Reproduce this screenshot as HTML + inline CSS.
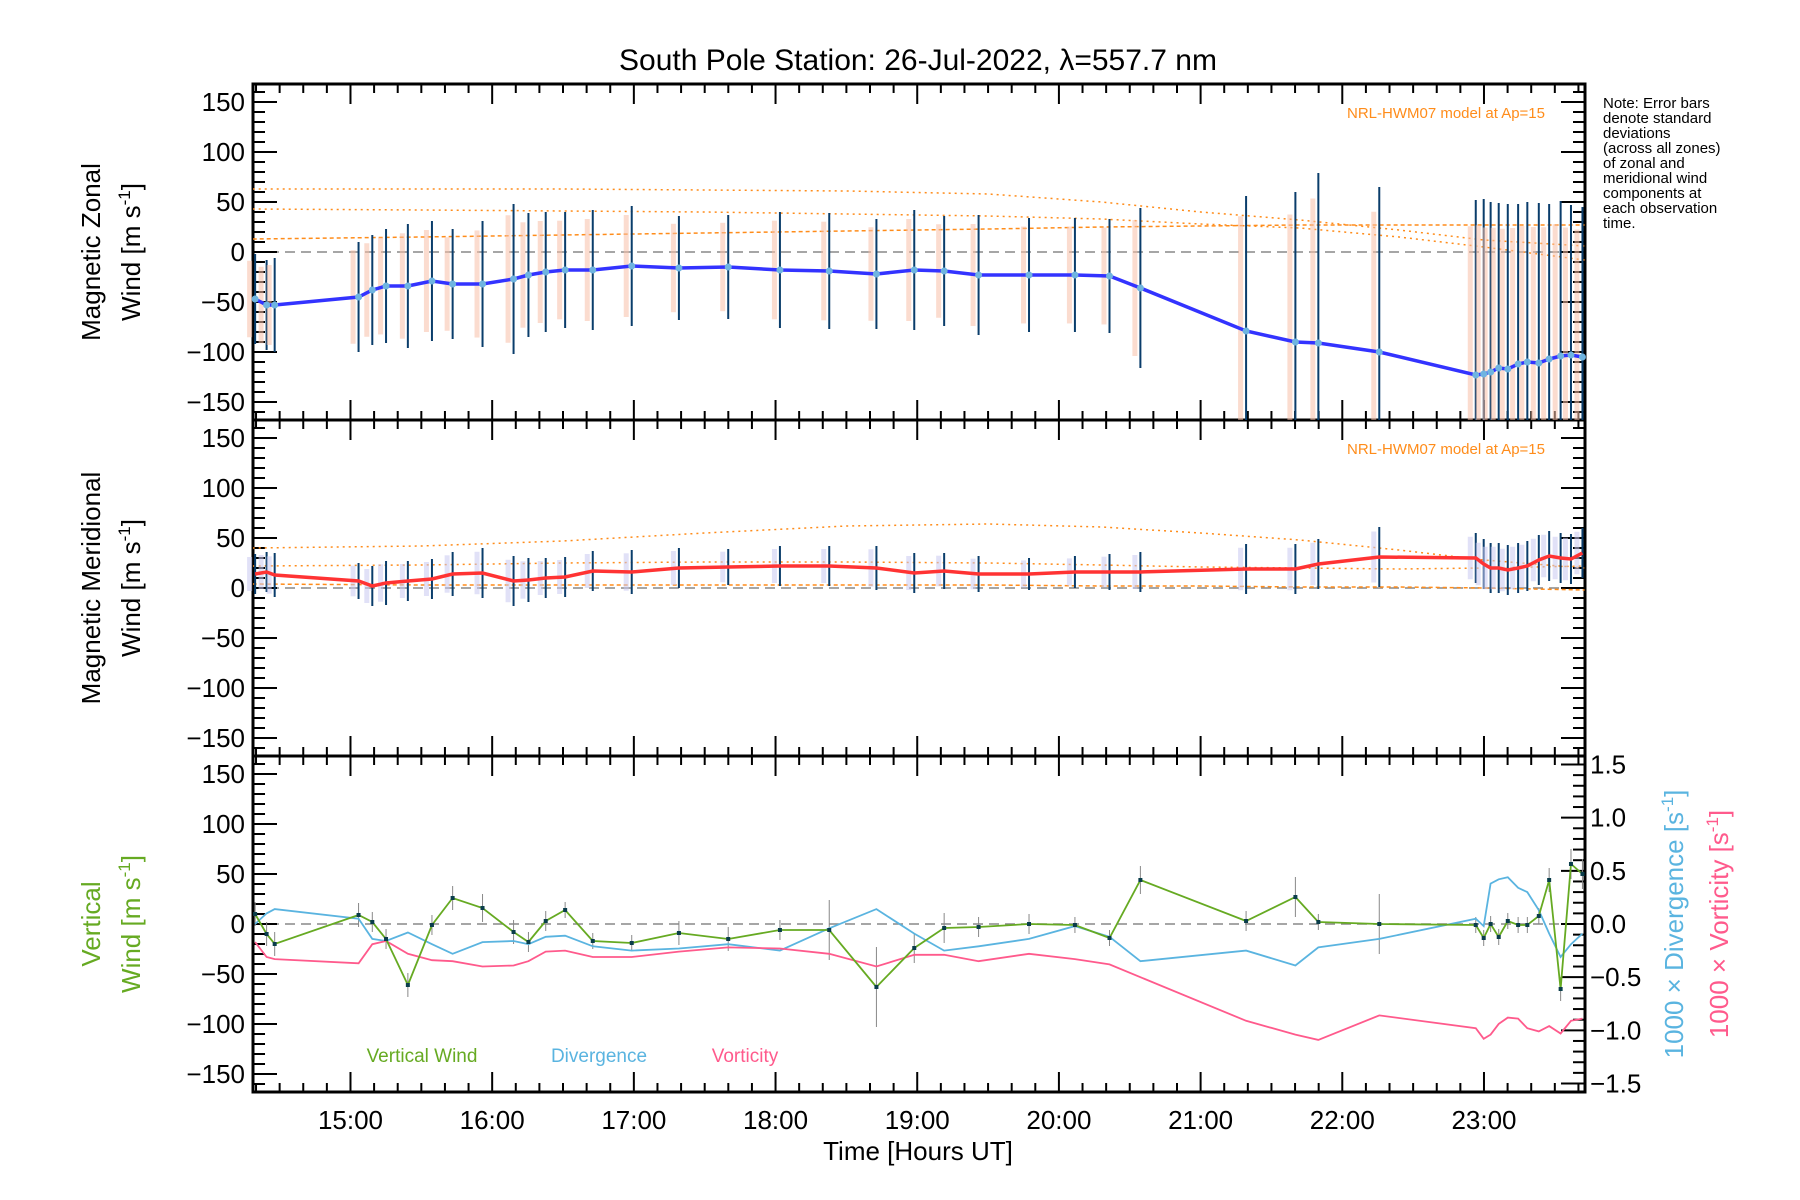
<!DOCTYPE html>
<html><head><meta charset="utf-8"><style>
html,body{margin:0;padding:0;background:#fff;}
svg{display:block;font-family:"Liberation Sans",sans-serif;}
</style></head><body>
<svg id="c" width="1800" height="1200" viewBox="0 0 1800 1200" xmlns="http://www.w3.org/2000/svg">
<text x="918" y="70" font-size="30" text-anchor="middle">South Pole Station: 26-Jul-2022, λ=557.7 nm</text>
<g font-size="15">
<text x="1603" y="108">Note: Error bars</text><text x="1603" y="123">denote standard</text><text x="1603" y="138">deviations</text><text x="1603" y="153">(across all zones)</text><text x="1603" y="168">of zonal and</text><text x="1603" y="183">meridional wind</text><text x="1603" y="198">components at</text><text x="1603" y="213">each observation</text><text x="1603" y="228">time.</text>
</g>
<text x="1545" y="118" font-size="15" fill="#ff8c1a" text-anchor="end">NRL-HWM07 model at Ap=15</text>
<text x="1545" y="454" font-size="15" fill="#ff8c1a" text-anchor="end">NRL-HWM07 model at Ap=15</text>
<text transform="translate(100,252) rotate(-90)" font-size="26" text-anchor="middle"><tspan x="0" dy="0">Magnetic Zonal</tspan><tspan x="0" dy="40">Wind [m s<tspan dy="-10" font-size="17">-1</tspan><tspan dy="10">]</tspan></tspan></text>
<text transform="translate(100,588) rotate(-90)" font-size="26" text-anchor="middle"><tspan x="0" dy="0">Magnetic Meridional</tspan><tspan x="0" dy="40">Wind [m s<tspan dy="-10" font-size="17">-1</tspan><tspan dy="10">]</tspan></tspan></text>
<text transform="translate(100,924) rotate(-90)" font-size="26" text-anchor="middle" fill="#66aa22"><tspan x="0" dy="0">Vertical</tspan><tspan x="0" dy="40">Wind [m s<tspan dy="-10" font-size="17">-1</tspan><tspan dy="10">]</tspan></tspan></text>
<text transform="translate(1683,924) rotate(-90)" font-size="26" text-anchor="middle" fill="#5ab4e0">1000 × Divergence [s<tspan dy="-10" font-size="17">-1</tspan><tspan dy="10">]</tspan></text>
<text transform="translate(1728,924) rotate(-90)" font-size="26" text-anchor="middle" fill="#ff5a8c">1000 × Vorticity [s<tspan dy="-10" font-size="17">-1</tspan><tspan dy="10">]</tspan></text>
<text x="422" y="1062" font-size="19" fill="#66aa22" text-anchor="middle">Vertical Wind</text>
<text x="599" y="1062" font-size="19" fill="#5ab4e0" text-anchor="middle">Divergence</text>
<text x="745" y="1062" font-size="19" fill="#ff5a8c" text-anchor="middle">Vorticity</text>
<text x="918" y="1160" font-size="26" text-anchor="middle">Time [Hours UT]</text>
</svg>
<script>
const times=[14.327,14.408,14.465,15.057,15.154,15.251,15.405,15.575,15.721,15.932,16.151,16.256,16.378,16.515,16.710,16.985,17.318,17.666,18.031,18.379,18.712,18.979,19.190,19.433,19.789,20.113,20.357,20.575,21.321,21.669,21.831,22.261,22.942,22.998,23.047,23.104,23.168,23.241,23.306,23.387,23.460,23.541,23.614,23.695];
const zonal=[-47,-53,-53,-45,-38,-34,-34,-29,-32,-32,-27,-23,-20,-18,-18,-14,-16,-15,-18,-19,-22,-18,-19,-23,-23,-23,-24,-36,-79,-90,-91,-100,-123,-122,-120,-116,-117,-112,-110,-111,-107,-104,-103,-105];
const zonalErr=[45,45,47,55,55,57,62,60,55,63,75,62,60,58,60,60,52,52,58,58,55,60,55,60,57,57,57,80,135,150,170,165,175,175,170,165,165,160,160,160,155,155,150,150];
const merid=[14,16,13,7,2,5,7,9,14,15,7,8,10,11,17,16,20,21,22,22,20,15,17,14,14,16,16,16,19,19,24,31,30,24,20,20,18,20,22,28,32,30,29,35];
const meridErr=[20,20,22,18,20,22,20,20,22,25,25,22,20,20,20,22,20,18,20,20,22,20,18,18,16,16,18,20,25,25,25,30,25,25,25,25,25,25,25,25,25,25,25,25];
const vert=[10,-10,-20,9,2,-15,-61,-1,26,16,-8,-18,3,14,-17,-19,-9,-15,-6,-6,-63,-24,-4,-3,0,-1,-14,44,3,27,2,0,-1,-14,0,-13,3,-1,-1,8,44,-65,60,50];
const vertErr=[12,12,12,12,10,10,12,10,12,14,12,10,10,8,8,8,12,12,10,30,40,15,15,10,10,8,8,14,10,20,8,30,8,8,8,8,8,8,8,8,12,12,15,15];
const diverg=[0.0,0.10,0.14,0.05,-0.14,-0.16,-0.08,-0.19,-0.28,-0.17,-0.16,-0.19,-0.12,-0.11,-0.21,-0.25,-0.23,-0.19,-0.25,-0.04,0.14,-0.09,-0.25,-0.21,-0.14,-0.02,-0.12,-0.35,-0.25,-0.39,-0.22,-0.14,0.05,-0.02,0.38,0.42,0.44,0.34,0.30,0.13,-0.09,-0.31,-0.19,-0.09];
const vort=[-0.17,-0.31,-0.33,-0.37,-0.19,-0.16,-0.28,-0.34,-0.35,-0.40,-0.39,-0.35,-0.26,-0.25,-0.31,-0.31,-0.26,-0.22,-0.23,-0.28,-0.40,-0.29,-0.29,-0.35,-0.28,-0.33,-0.38,-0.50,-0.91,-1.04,-1.09,-0.86,-0.98,-1.08,-1.04,-0.94,-0.88,-0.89,-0.98,-1.01,-0.96,-1.03,-0.91,-0.89];
const modelT=[14.31,15.5,16.5,17.5,18.5,19.5,20.3,21.0,21.7,22.4,23.0,23.71];
const zModelA=[63,63,63,62,61,58,50,40,32,22,12,6];
const zModelB=[43,42,41,40,38,36,33,28,24,15,5,-8];
const zModelC=[13,15,17,19,21,23,25,26,27,27,27,27];
const mModelA=[40,42,47,55,62,64,61,55,48,38,28,20];
const mModelB=[22,23,25,26,26,25,23,21,20,19,20,22];
const mModelC=[4,3,3,3,3,3,2,2,1,1,0,-2];
const yTicks=[-150,-100,-50,0,50,100,150];
const rTicks=[-1.5,-1.0,-0.5,0.0,0.5,1.0,1.5];
const xTicks=[15,16,17,18,19,20,21,22,23];

const NS='http://www.w3.org/2000/svg';
const svg=document.getElementById('c');
const L=253,R=1585,T0=14.312,T1=23.713,PH=336,tops=[84,420,756],YR=168,RR=1.58;
function xs(h){return L+(h-T0)/(T1-T0)*(R-L);}
function ys(p,v){return tops[p]+PH/2-v/YR*PH/2;}
function yr(v){return tops[2]+PH/2-v/RR*PH/2;}
function el(tag,attrs,parent){const e=document.createElementNS(NS,tag);for(const k in attrs)e.setAttribute(k,attrs[k]);(parent||svg).appendChild(e);return e;}
function clamp(p,y){return Math.max(tops[p],Math.min(tops[p]+PH,y));}

const clip=el('clipPath',{id:'clipAll'});el('rect',{x:L,y:84,width:R-L,height:3*PH},clip);

for(let p=0;p<3;p++){
  const g=el('g',{});
  
  
  const top=tops[p],bot=top+PH;
  const z=el('line',{x1:L,x2:R,y1:ys(p,0),y2:ys(p,0),stroke:'#888','stroke-dasharray':'10,6','stroke-width':1.5},g);
  
  
  for(let v=-160;v<=160;v+=10){
    const y=ys(p,v),maj=(v%50===0);
    el('line',{x1:L,x2:L+(maj?24:12),y1:y,y2:y,stroke:'#000','stroke-width':2},g);
    if(p<2) el('line',{x1:R,x2:R-(maj?24:12),y1:y,y2:y,stroke:'#000','stroke-width':2},g);
  }
  yTicks.forEach(v=>{
    const t=el('text',{x:L-8,y:ys(p,v)+9,'font-size':26,'text-anchor':'end'},g);
    t.textContent=(v<0?'\u2212'+(-v):v);
    
    
  });
  for(let m=Math.ceil(T0*6);m<=T1*6;m++){
    const x=xs(m/6),maj=(m%6===0);
    el('line',{x1:x,x2:x,y1:bot,y2:bot-(maj?20:9),stroke:'#000','stroke-width':2},g);
    el('line',{x1:x,x2:x,y1:top,y2:top+(maj?20:9),stroke:'#000','stroke-width':2},g);
  }
  el('rect',{x:L,y:top,width:R-L,height:PH,fill:'none',stroke:'#000','stroke-width':3},g);
}
for(let v=-15;v<=15;v++){
  const y=yr(v/10),maj=(v%5===0);
  el('line',{x1:R,x2:R-(maj?24:12),y1:y,y2:y,stroke:'#000','stroke-width':2});
}
rTicks.forEach(v=>{
  const t=el('text',{x:R+5,y:yr(v)+9,'font-size':26});
  t.textContent=(v<0?'\u2212':'')+Math.abs(v).toFixed(1);
  
  
});
xTicks.forEach(h=>{
  const t=el('text',{x:xs(h),y:1129,'font-size':26,'text-anchor':'middle'});
  t.textContent=h+':00';
  
  
});

function poly(pts,attrs,name){
  const e=el('polyline',Object.assign({points:pts.map(p=>p[0].toFixed(1)+','+p[1].toFixed(1)).join(' '),fill:'none','clip-path':'url(#clipAll)'},attrs));
  
  
  return e;
}
[[0,zModelA],[0,zModelB],[0,zModelC],[1,mModelA],[1,mModelB],[1,mModelC]].forEach(([p,arr],i)=>{
  poly(modelT.map((t,j)=>[xs(t),ys(p,arr[j])]),{stroke:'#ff8c1a','stroke-width':1.5,'stroke-dasharray':(i%3===2?'4,3':'2,4')},'model-line');
});
function bars(p,vals,errs,pastel,name){
  times.forEach((t,i)=>{
    const x=xs(t),y1=clamp(p,ys(p,vals[i]+errs[i])),y2=clamp(p,ys(p,vals[i]-errs[i]));
    const ra=clamp(p,ys(p,vals[i]+errs[i]*0.85)),rb=clamp(p,ys(p,vals[i]-errs[i]*0.85));
    const r=el('rect',{x:x-8,y:ra,width:5,height:Math.max(0,rb-ra),fill:pastel,opacity:0.55});
    
    
    const b=el('line',{x1:x,x2:x,y1:y1,y2:y2,stroke:'#0a3d6b','stroke-width':2});
    
    
  });
}
bars(0,zonal,zonalErr,'#f8c0a8','zonal-error-bar');
bars(1,merid,meridErr,'#c8c8f0','meridional-error-bar');
poly(times.map((t,i)=>[xs(t),ys(0,zonal[i])]),{stroke:'#3333ff','stroke-width':3.5},'zonal-wind-line');
times.forEach((t,i)=>{const c=el('circle',{cx:xs(t),cy:ys(0,zonal[i]),r:3.5,fill:'#6fb4e0'});});
poly(times.map((t,i)=>[xs(t),ys(1,merid[i])]),{stroke:'#ff3333','stroke-width':3.5},'meridional-wind-line');
times.forEach((t,i)=>{
  const x=xs(t);
  const b=el('line',{x1:x,x2:x,y1:clamp(2,ys(2,vert[i]+vertErr[i])),y2:clamp(2,ys(2,vert[i]-vertErr[i])),stroke:'#888','stroke-width':1});
  
  
});
poly(times.map((t,i)=>[xs(t),yr(diverg[i])]),{stroke:'#5ab4e0','stroke-width':1.8},'divergence-line');
poly(times.map((t,i)=>[xs(t),yr(vort[i])]),{stroke:'#ff5a8c','stroke-width':1.8},'vorticity-line');
poly(times.map((t,i)=>[xs(t),ys(2,vert[i])]),{stroke:'#66aa22','stroke-width':1.8},'vertical-wind-line');
times.forEach((t,i)=>{const c=el('rect',{x:xs(t)-2,y:ys(2,vert[i])-2,width:4,height:4,fill:'#0a3d4b'});});
</script>
</body></html>
